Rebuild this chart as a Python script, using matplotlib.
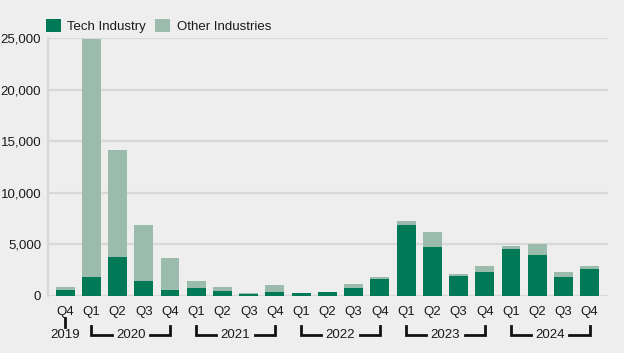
import matplotlib
matplotlib.use('Agg')
import matplotlib.pyplot as plt
import numpy as np

# Datos
trimestres = ['Q4', 'Q1', 'Q2', 'Q3', 'Q4', 'Q1', 'Q2', 'Q3', 'Q4', 'Q1', 'Q2',
              'Q3', 'Q4', 'Q1', 'Q2', 'Q3', 'Q4', 'Q1', 'Q2', 'Q3', 'Q4']
tech = [600, 1880, 3800, 1500, 600, 800, 450, 150, 350, 250, 400,
        800, 1600, 6900, 4750, 1900, 2300, 4550, 4000, 1800, 2600]
total = [900, 24900, 14200, 6900, 3700, 1500, 900, 250, 1100, 300, 400,
         1200, 1800, 7300, 6200, 2100, 2950, 4800, 5000, 2300, 2900]
otras = [t - s for t, s in zip(total, tech)]
anos = ['2019', '2020', '2021', '2022', '2023', '2024']
inicio_ano = [0, 1, 5, 9, 13, 17]   # índice del primer trimestre de cada año

verde = '#007A56'
verde_claro = '#9BBCAD'
fondo = '#EEEEEE'
texto = '#1A1A1A'
fs = 9.5

plt.rcParams['font.family'] = ['Liberation Sans', 'DejaVu Sans']

fig = plt.figure(figsize=(6.24, 3.53), dpi=100, facecolor=fondo)
ax = fig.add_axes([0.077, 0.1615, 0.897, 0.7305], facecolor=fondo)

x = np.arange(len(trimestres))
ax.bar(x, tech, width=0.72, color=verde, label='Tech Industry', zorder=3)
ax.bar(x, otras, width=0.72, bottom=tech, color=verde_claro, label='Other Industries', zorder=3)

ax.set_xlim(-0.65, len(x) - 1 + 0.69)
ax.set_ylim(0, 25000)
ax.set_yticks(range(0, 25001, 5000))
ax.set_yticklabels([f'{v:,}' for v in range(0, 25001, 5000)], fontsize=fs)
ax.yaxis.grid(True, color='#D8D8D8', linewidth=1.6, zorder=0)
ax.set_axisbelow(True)

ax.set_xticks(x)
ax.set_xticklabels(trimestres, fontsize=fs)
ax.tick_params(axis='both', length=0, pad=5, colors=texto)
ax.tick_params(axis='x', pad=7)

for lado in ['top', 'right', 'bottom']:
    ax.spines[lado].set_visible(False)
ax.spines['left'].set_color('#D8D8D8')
ax.spines['left'].set_linewidth(1.6)

# Etiquetas de año con corchetes
tr = ax.get_xaxis_transform()
y_alto, y_bajo = -0.118, -0.151
for ano, i0 in zip(anos, inicio_ano):
    if ano == '2019':
        ax.plot([i0, i0], [-0.086, -0.122], color='#111111', lw=2, transform=tr, clip_on=False)
        ax.text(i0, y_bajo, ano, transform=tr, ha='center', va='center', fontsize=fs, color=texto)
        continue
    i1 = i0 + 3
    medio = (i0 + i1) / 2
    ax.plot([i0, i0, medio - 0.73], [y_alto, y_bajo, y_bajo], color='#111111', lw=2,
            transform=tr, clip_on=False, solid_joinstyle='miter')
    ax.plot([medio + 0.73, i1, i1], [y_bajo, y_bajo, y_alto], color='#111111', lw=2,
            transform=tr, clip_on=False, solid_joinstyle='miter')
    ax.text(medio, y_bajo, ano, transform=tr, ha='center', va='center', fontsize=fs, color=texto)

leg = ax.legend(loc='lower left', bbox_to_anchor=(-0.003, 1.02), ncol=2, frameon=False,
                handlelength=1.1, handleheight=1.1, borderaxespad=0, handletextpad=0.5,
                columnspacing=0.7, fontsize=fs, borderpad=0)
for t in leg.get_texts():
    t.set_color(texto)

fig.savefig('out.png', dpi=100, facecolor=fondo)
